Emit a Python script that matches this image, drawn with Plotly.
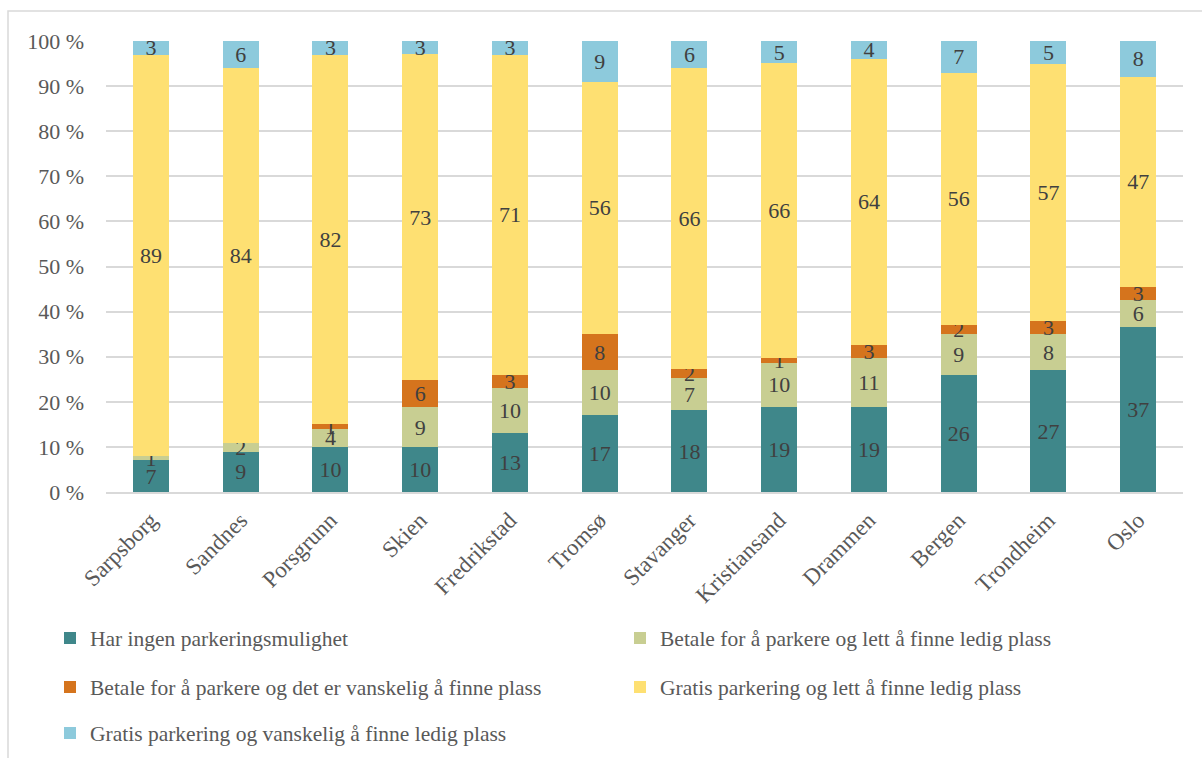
import plotly.graph_objects as go

cities = ["Sarpsborg", "Sandnes", "Porsgrunn", "Skien", "Fredrikstad", "Tromsø",
          "Stavanger", "Kristiansand", "Drammen", "Bergen", "Trondheim", "Oslo"]

har_ingen = [7, 9, 10, 10, 13, 17, 18, 19, 19, 26, 27, 37]
betale_lett = [1, 2, 4, 9, 10, 10, 7, 10, 11, 9, 8, 6]
betale_vansk = [0, 0, 1, 6, 3, 8, 2, 1, 3, 2, 3, 3]
gratis_lett = [89, 84, 82, 73, 71, 56, 66, 66, 64, 56, 57, 47]
gratis_vansk = [3, 6, 3, 3, 3, 9, 6, 5, 4, 7, 5, 8]

series_names = [
    "Har ingen parkeringsmulighet",
    "Betale for å parkere og lett å finne ledig plass",
    "Betale for å parkere og det er vanskelig å finne plass",
    "Gratis parkering og lett å finne ledig plass",
    "Gratis parkering og vanskelig å finne ledig plass",
]
series_values = [har_ingen, betale_lett, betale_vansk, gratis_lett, gratis_vansk]
colors = ["#3F878A", "#C8CE92", "#D5741D", "#FEE072", "#8DCADC"]
legend_ids = ["legend", "legend", "legend2", "legend2", "legend3"]

FONT = "Liberation Serif"
TXT = "#404040"
GRAY = "#595959"

fig = go.Figure()
for name, vals, col, lg in zip(series_names, series_values, colors, legend_ids):
    fig.add_trace(go.Bar(
        x=cities, y=vals, name=name, marker=dict(color=col, line=dict(width=0)),
        text=[str(v) if v > 0 else "" for v in vals],
        textposition="inside", insidetextanchor="middle", textangle=0,
        textfont=dict(family=FONT, size=22, color=TXT),
        legend=lg,
    ))

L, R, T, B = 106, 19, 41, 266
W, H = 1202, 758
pw, ph = W - L - R, H - T - B

def py(y):
    return (H - B - y) / ph

def px(x):
    return (x - L) / pw

leg_common = dict(orientation="h", xanchor="left", yanchor="middle",
                  font=dict(family=FONT, size=21.5, color=GRAY),
                  entrywidth=525, entrywidthmode="pixels",
                  bgcolor="rgba(0,0,0,0)", itemwidth=30, traceorder="normal")

fig.update_layout(
    width=W, height=H, margin=dict(l=L, r=R, t=T, b=B, autoexpand=False),
    barmode="stack", barnorm="percent", bargap=0.6,
    plot_bgcolor="white", paper_bgcolor="white",
    uniformtext=dict(minsize=22, mode="show"),
    font=dict(family=FONT, color=GRAY),
    legend=dict(x=px(50), y=py(638), **leg_common),
    legend2=dict(x=px(50), y=py(687), **leg_common),
    legend3=dict(x=px(50), y=py(733), **leg_common),
    shapes=[dict(type="rect", xref="paper", yref="paper",
                 x0=px(8), x1=px(1230), y0=py(790), y1=py(11),
                 line=dict(color="#D9D9D9", width=1.5), layer="below")],
)
fig.update_xaxes(tickangle=-45, tickfont=dict(family=FONT, size=23, color=GRAY),
                 showline=True, linecolor="#D9D9D9", linewidth=1.5, ticks="",
                 automargin=False, ticklabelstandoff=4)
fig.update_yaxes(range=[0, 100], dtick=10, ticksuffix=" %",
                 tickfont=dict(family=FONT, size=22, color=GRAY),
                 showgrid=True, gridcolor="#D9D9D9", gridwidth=1.5,
                 zeroline=False, ticks="", ticklabelstandoff=21, automargin=False)

fig.write_html("out.html")
